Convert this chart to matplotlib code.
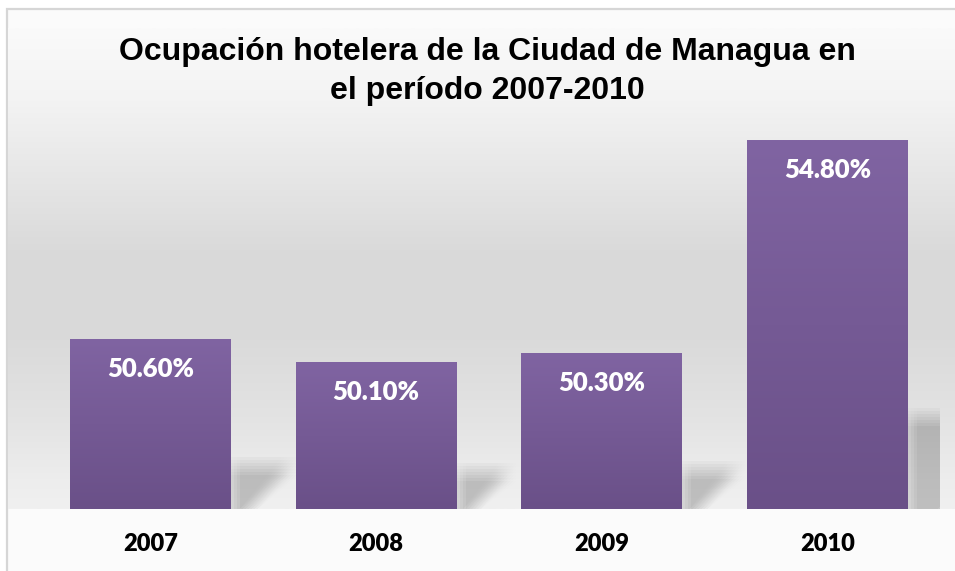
import numpy as np
import matplotlib
matplotlib.use("Agg")
import matplotlib.pyplot as plt
from matplotlib.colors import LinearSegmentedColormap
from matplotlib.patches import Polygon, Rectangle

years = ["2007", "2008", "2009", "2010"]
occupancy = [50.6, 50.1, 50.3, 54.8]
labels = ["50.60%", "50.10%", "50.30%", "54.80%"]
title = "Ocupación hotelera de la Ciudad de Managua en\nel período 2007-2010"

W, H = 955, 571
fig = plt.figure(figsize=(W / 100, H / 100), dpi=100, facecolor="white")

# chart area border (right/bottom edges fall outside the picture)
fig.patches.append(Rectangle((7 / W, -0.2), 1.3, 1 - 9 / H + 0.2,
                             transform=fig.transFigure, fc="#fbfbfb",
                             ec="#d6d6d6", lw=1.6, zorder=-5))

# plot area in pixels
left, right, top, bottom = 37.7, 940.3, 28, 509

# gradient behind the plot area, spanning the chart width
bg_ax = fig.add_axes([8 / W, 1 - bottom / H, (W - 8) / W, (bottom - top) / H])
bg_ax.set_axis_off()
bg = LinearSegmentedColormap.from_list(
    "bg", [(0, "#fafafa"), (0.15, "#f3f3f3"), (0.46, "#dadada"),
           (0.63, "#d9d9d9"), (0.81, "#e3e3e3"), (0.94, "#ededed"), (1, "#f0f0f0")])
bg_ax.imshow(np.linspace(0, 1, 256).reshape(-1, 1), cmap=bg, aspect="auto",
             extent=(0, 1, 0, 1))
bg_ax.set_xlim(0, 1)
bg_ax.set_ylim(0, 1)

ax = fig.add_axes([left / W, 1 - bottom / H, (right - left) / W, (bottom - top) / H])
ax.set_zorder(1)
ymin = 47
px_per_unit = 47.3
ymax = ymin + (bottom - top) / px_per_unit
for s in ax.spines.values():
    s.set_visible(False)
ax.set_xticks([])
ax.set_yticks([])
ax.patch.set_visible(False)

x = np.arange(len(years))
width = 0.713
px_per_x = (right - left) / len(years)

# blurred perspective shadows
blur_x = 9 / px_per_x
blur_y = 9 / px_per_unit
offs = np.linspace(-1, 1, 7)
for xi, v in zip(x, occupancy):
    xr = xi + width / 2
    h_px = 0.25 * (v - ymin) * px_per_unit
    yt = ymin + h_px / px_per_unit
    d = 1.4 * h_px / px_per_x
    for ox in offs:
        for oy in offs:
            pts = [(xr + ox * blur_x, ymin),
                   (xr + ox * blur_x, yt + oy * blur_y),
                   (xr + d + ox * blur_x, yt + oy * blur_y),
                   (xr + 0.3 * d + ox * blur_x, ymin)]
            ax.add_patch(Polygon(pts, closed=True, fc="#404040", ec="none",
                                 alpha=0.005, zorder=1))

# bars with vertical gradient
bar_cmap = LinearSegmentedColormap.from_list("bar", ["#6a5088", "#8064a2"])
bars = ax.bar(x, [v - ymin for v in occupancy], width, bottom=ymin,
              color="none", edgecolor="none", zorder=2)
for b in bars:
    x0, y0 = b.get_x(), b.get_y()
    im = ax.imshow(np.linspace(0, 1, 256).reshape(-1, 1), cmap=bar_cmap, origin="lower",
                   aspect="auto", extent=(x0, x0 + b.get_width(), y0, y0 + b.get_height()),
                   zorder=2)
    im.set_clip_path(b)
ax.set_xlim(-0.5, len(years) - 0.5)
ax.set_ylim(ymin, ymax)

# value labels
for xi, v, lab in zip(x, occupancy, labels):
    ax.annotate(lab, xy=(xi, v), xytext=(0, -30 * 72 / 100), textcoords="offset points",
                ha="center", va="center", color="white", fontsize=18.5,
                fontweight=800, family="Lato", zorder=3)

# category labels
for xi, yr in zip(x, years):
    ax.annotate(yr, xy=(xi, ymin), xytext=(0, -35 * 72 / 100), textcoords="offset points",
                ha="center", va="center", color="black", fontsize=17,
                fontweight=800, family="Lato", annotation_clip=False)

fig.text(487 / W, 1 - 71.5 / H, title, ha="center", va="center",
         fontsize=23, fontweight="bold", family="Liberation Sans",
         linespacing=1.4)

fig.savefig("out.png", dpi=100, facecolor=fig.get_facecolor())
